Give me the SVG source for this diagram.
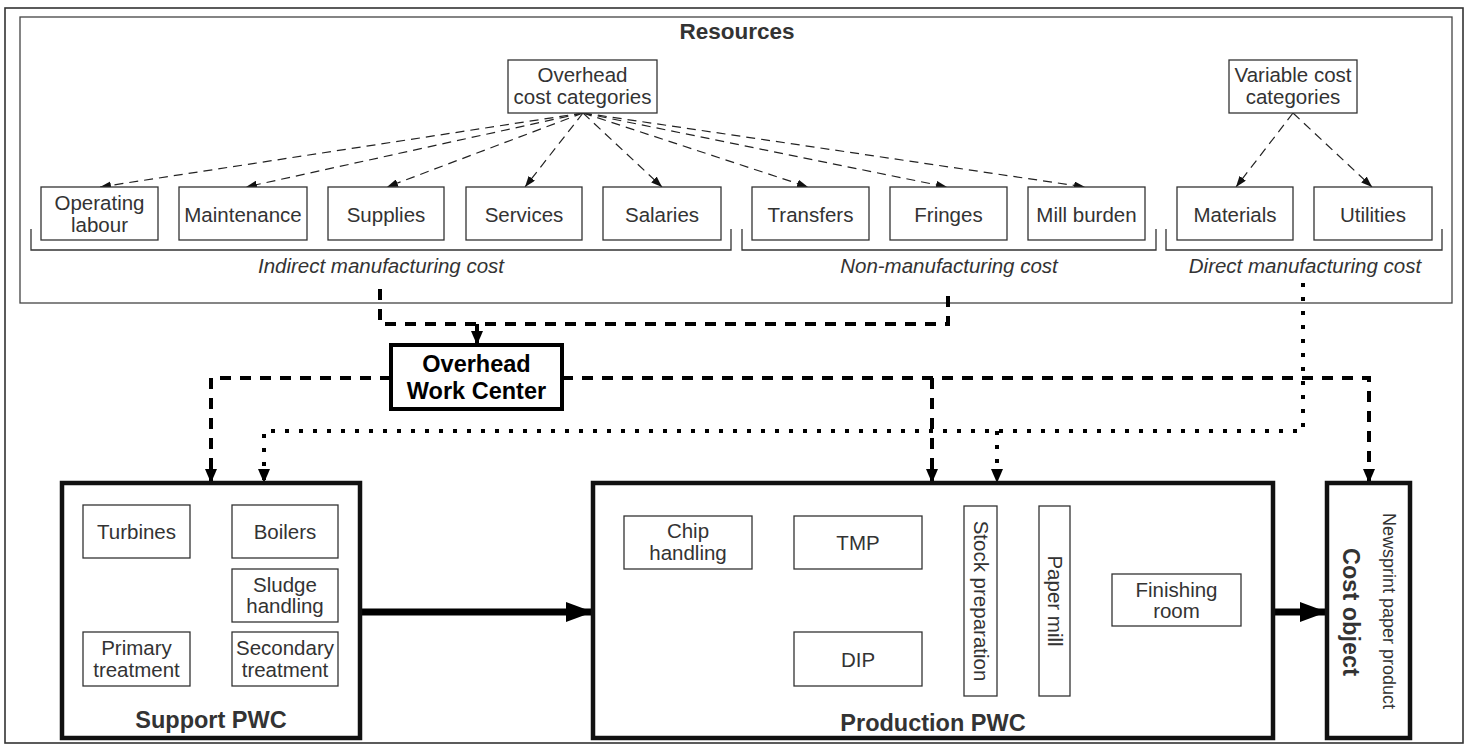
<svg xmlns="http://www.w3.org/2000/svg" width="1468" height="744" viewBox="0 0 1468 744">
<defs>
<style>
.frame{fill:none;stroke:#333;stroke-width:1.6}
.box{fill:#fff;stroke:#333;stroke-width:1.3}
.big{fill:#fff;stroke:#111;stroke-width:4.5}
.owc{fill:#fff;stroke:#000;stroke-width:4}
.t{font-family:"Liberation Sans",Arial,sans-serif;font-size:20.5px;fill:#333;text-anchor:middle}
.it{font-family:"Liberation Sans",Arial,sans-serif;font-size:20.5px;font-style:italic;fill:#333;text-anchor:middle}
.b{font-family:"Liberation Sans",Arial,sans-serif;font-weight:bold;font-size:23.5px;fill:#333;text-anchor:middle}
.bk{font-family:"Liberation Sans",Arial,sans-serif;font-weight:bold;font-size:23.5px;fill:#000;text-anchor:middle}
.sm{font-family:"Liberation Sans",Arial,sans-serif;font-size:18px;fill:#333;text-anchor:middle}
.thin{fill:none;stroke:#222;stroke-width:1.2;stroke-dasharray:9,6}
.brk{fill:none;stroke:#333;stroke-width:1.3}
.hd{fill:none;stroke:#000;stroke-width:4;stroke-dasharray:11,9}
.dot{fill:none;stroke:#000;stroke-width:4;stroke-dasharray:4,10}
.flow{fill:none;stroke:#333;stroke-width:1.2}
.thick{fill:none;stroke:#000;stroke-width:7}
</style>
<marker id="aThin" markerUnits="userSpaceOnUse" markerWidth="11" markerHeight="8" refX="11" refY="4" orient="auto"><path d="M0,0 L11,4 L0,8 z" fill="#111"/></marker>
<marker id="aBold" markerUnits="userSpaceOnUse" markerWidth="14" markerHeight="12" refX="14" refY="6" orient="auto"><path d="M0,0 L14,6 L0,12 z" fill="#000"/></marker>
<marker id="aSmall" markerUnits="userSpaceOnUse" markerWidth="10" markerHeight="7" refX="10" refY="3.5" orient="auto"><path d="M0,0 L10,3.5 L0,7 z" fill="#111"/></marker>
<marker id="aBig" markerUnits="userSpaceOnUse" markerWidth="27" markerHeight="20" refX="27" refY="10" orient="auto"><path d="M0,0 L27,10 L0,20 z" fill="#000"/></marker>
</defs>

<rect class="frame" x="5" y="8" width="1458" height="735"/>

<g id="resources">
<rect class="frame" x="20" y="17" width="1432" height="286" style="stroke-width:1.3;stroke:#444"/>
<text class="b" x="737" y="39" style="font-size:22.5px">Resources</text>
</g>

<g id="connectors">
<!-- thin dashed from overhead cost categories -->
<path class="thin" d="M583,113 L100,187" marker-end="url(#aThin)"/>
<path class="thin" d="M583,113 L246,187" marker-end="url(#aThin)"/>
<path class="thin" d="M583,113 L387,187" marker-end="url(#aThin)"/>
<path class="thin" d="M583,113 L525,187" marker-end="url(#aThin)"/>
<path class="thin" d="M583,113 L662,187" marker-end="url(#aThin)"/>
<path class="thin" d="M583,113 L808,187" marker-end="url(#aThin)"/>
<path class="thin" d="M583,113 L947,187" marker-end="url(#aThin)"/>
<path class="thin" d="M583,113 L1085,187" marker-end="url(#aThin)"/>
<path class="thin" d="M1293,113 L1236,187" marker-end="url(#aThin)"/>
<path class="thin" d="M1293,113 L1372,187" marker-end="url(#aThin)"/>
<!-- brackets -->
<path class="brk" d="M31,229 V250 H731 V229"/>
<path class="brk" d="M742,229 V250 H1156 V229"/>
<path class="brk" d="M1166,229 V250 H1442 V229"/>
<!-- heavy dashed -->
<path class="hd" d="M380,289 V324 H948 V289"/>
<path class="hd" d="M477,324 V345" marker-end="url(#aBold)" style="stroke-dasharray:none"/>
<path class="hd" d="M391,378 H211 V483" marker-end="url(#aBold)"/>
<path class="hd" d="M562,378 H1369 V483" marker-end="url(#aBold)"/>
<path class="hd" d="M932,378 V483" marker-end="url(#aBold)"/>
<!-- dotted -->
<path class="dot" d="M1303,283 V431 H264 V483" marker-end="url(#aBold)"/>
<path class="dot" d="M997,431 V483" marker-end="url(#aBold)"/>
<!-- thick flows -->
<path class="thick" d="M360,612 H593" marker-end="url(#aBig)"/>
<path class="thick" d="M1273,612 H1327" marker-end="url(#aBig)"/>
<!-- production internal flows -->
<path class="flow" d="M752,548 H794" marker-end="url(#aSmall)"/>
<path class="flow" d="M922,548 H964" marker-end="url(#aSmall)"/>
<path class="flow" d="M922,654 H964" marker-end="url(#aSmall)"/>
<path class="flow" d="M997,601 H1039" marker-end="url(#aSmall)"/>
<path class="flow" d="M1070,601 H1112" marker-end="url(#aSmall)"/>
</g>

<g id="overhead-cost-categories">
<rect class="box" x="508" y="60" width="149" height="53"/>
<text class="t" x="582.5" y="81.5">Overhead</text>
<text class="t" x="582.5" y="104">cost categories</text>
</g>
<g id="variable-cost-categories">
<rect class="box" x="1229" y="60" width="128" height="53"/>
<text class="t" x="1293" y="81.5">Variable cost</text>
<text class="t" x="1293" y="104">categories</text>
</g>

<g id="operating-labour"><rect class="box" x="41" y="187" width="117" height="53"/><text class="t" x="99.5" y="210">Operating</text><text class="t" x="99.5" y="232">labour</text></g>
<g id="maintenance"><rect class="box" x="179" y="187" width="128" height="53"/><text class="t" x="243" y="221.5">Maintenance</text></g>
<g id="supplies"><rect class="box" x="328" y="187" width="116" height="53"/><text class="t" x="386" y="221.5">Supplies</text></g>
<g id="services"><rect class="box" x="466" y="187" width="116" height="53"/><text class="t" x="524" y="221.5">Services</text></g>
<g id="salaries"><rect class="box" x="603" y="187" width="118" height="53"/><text class="t" x="662" y="221.5">Salaries</text></g>
<g id="transfers"><rect class="box" x="752" y="187" width="117" height="53"/><text class="t" x="810.5" y="221.5">Transfers</text></g>
<g id="fringes"><rect class="box" x="890" y="187" width="117" height="53"/><text class="t" x="948.5" y="221.5">Fringes</text></g>
<g id="mill-burden"><rect class="box" x="1028" y="187" width="117" height="53"/><text class="t" x="1086.5" y="221.5">Mill burden</text></g>
<g id="materials"><rect class="box" x="1177" y="187" width="116" height="53"/><text class="t" x="1235" y="221.5">Materials</text></g>
<g id="utilities"><rect class="box" x="1314" y="187" width="118" height="53"/><text class="t" x="1373" y="221.5">Utilities</text></g>

<g id="labels">
<text class="it" x="381" y="273">Indirect manufacturing cost</text>
<text class="it" x="949" y="273">Non-manufacturing cost</text>
<text class="it" x="1305" y="273">Direct manufacturing cost</text>
</g>

<g id="overhead-work-center">
<rect class="owc" x="391" y="345" width="171" height="64"/>
<text class="bk" x="476.5" y="372">Overhead</text>
<text class="bk" x="476.5" y="399">Work Center</text>
</g>

<g id="support-pwc">
<rect class="big" x="62" y="483" width="298" height="255"/>
<text class="b" x="211" y="728">Support PWC</text>
</g>
<g id="turbines"><rect class="box" x="83" y="505" width="107" height="53"/><text class="t" x="136.5" y="539">Turbines</text></g>
<g id="boilers"><rect class="box" x="232" y="505" width="106" height="53"/><text class="t" x="285" y="539">Boilers</text></g>
<g id="sludge-handling"><rect class="box" x="232" y="569" width="106" height="53"/><text class="t" x="285" y="592">Sludge</text><text class="t" x="285" y="613">handling</text></g>
<g id="primary-treatment"><rect class="box" x="83" y="632" width="107" height="54"/><text class="t" x="136.5" y="655">Primary</text><text class="t" x="136.5" y="677">treatment</text></g>
<g id="secondary-treatment"><rect class="box" x="232" y="632" width="106" height="54"/><text class="t" x="285" y="655">Secondary</text><text class="t" x="285" y="677">treatment</text></g>

<g id="production-pwc">
<rect class="big" x="593" y="483" width="680" height="255"/>
<text class="b" x="933" y="731">Production PWC</text>
</g>
<g id="chip-handling"><rect class="box" x="624" y="516" width="128" height="53"/><text class="t" x="688" y="538">Chip</text><text class="t" x="688" y="560">handling</text></g>
<g id="tmp"><rect class="box" x="794" y="516" width="128" height="53"/><text class="t" x="858" y="550">TMP</text></g>
<g id="dip"><rect class="box" x="794" y="632" width="128" height="54"/><text class="t" x="858" y="667">DIP</text></g>
<g id="stock-preparation"><rect class="box" x="964" y="506" width="33" height="190"/><text class="t" transform="translate(980.5,601) rotate(90)" x="0" y="7">Stock preparation</text></g>
<g id="paper-mill"><rect class="box" x="1039" y="506" width="31" height="190"/><text class="t" transform="translate(1054.5,601) rotate(90)" x="0" y="7">Paper mill</text></g>
<g id="finishing-room"><rect class="box" x="1112" y="574" width="129" height="52"/><text class="t" x="1176.5" y="597">Finishing</text><text class="t" x="1176.5" y="618">room</text></g>

<g id="cost-object">
<rect class="big" x="1327" y="483" width="83" height="255"/>
<text class="b" transform="translate(1351,612) rotate(90)" x="0" y="8">Cost object</text>
<text class="sm" transform="translate(1389,611) rotate(90)" x="0" y="6">Newsprint paper product</text>
</g>
</svg>
